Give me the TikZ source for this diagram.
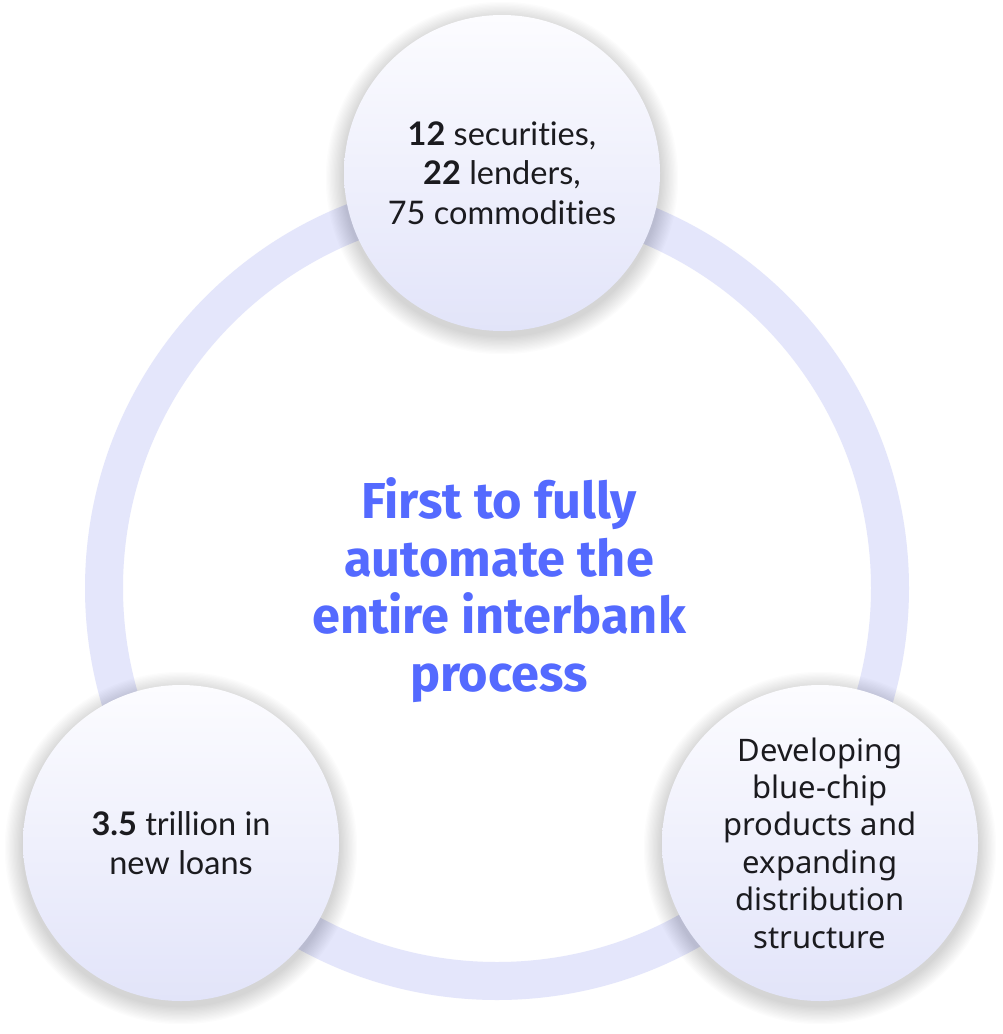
\documentclass[tikz,border=0pt]{standalone}
\usepackage{fontspec}
\setmainfont{Lato}[Ligatures=NoCommon]
\newfontfamily\bodyfont{Noto Sans}
\newfontfamily\headfont{Fira Sans}
\usetikzlibrary{calc}
\definecolor{ringcol}{RGB}{228,230,251}
\definecolor{discTop}{RGB}{252,252,255}
\definecolor{discBottom}{RGB}{226,228,249}
\definecolor{headblue}{RGB}{84,106,255}
\definecolor{ink}{RGB}{27,27,31}
\tikzset{
  disc/.style={circle, minimum size=316pt, inner sep=0pt, align=center,
    top color=discTop, bottom color=discBottom, text=ink},
  disctext/.style={font=\fontsize{32.5}{39.5}\selectfont},
}
% soft shadow under a disc
\newcommand{\discshadow}[1]{%
  \foreach \k in {1,...,14}{
    \fill[black, opacity=0.010] ($(#1)+(0,-5)$) circle ({158+1.3*\k});
  }%
}
\begin{document}
\begin{tikzpicture}[x=1pt,y=1pt]
\useasboundingbox (0,0) rectangle (1002,-1034);
\fill[white] (0,0) rectangle (1002,-1034);

% large ring
\coordinate (hub) at (497,-588);
\draw[ringcol, line width=38pt] (hub) circle (393);

% centre statement
\node[font=\headfont\bfseries\fontsize{50.5}{57.5}\selectfont, text=headblue, align=center]
  (core) at (499,-590) {First to fully\\automate the\\entire interbank\\process};

% disc positions
\coordinate (ptop) at (502,-173);
\coordinate (pleft) at (181,-843);
\coordinate (pright) at (820,-843);

\discshadow{ptop}
\discshadow{pleft}
\discshadow{pright}

\node[disc, disctext] (top) at (ptop)
  {\textbf{12} securities,\\\textbf{22} lenders,\\75 commodities};
\node[disc, disctext] (left) at (pleft)
  {\textbf{3.5} trillion in\\new loans};
\node[disc, font=\bodyfont\fontsize{31}{37.4}\selectfont] (right) at (pright)
  {Developing\\blue-chip\\products and\\expanding\\distribution\\structure};
\end{tikzpicture}
\end{document}
